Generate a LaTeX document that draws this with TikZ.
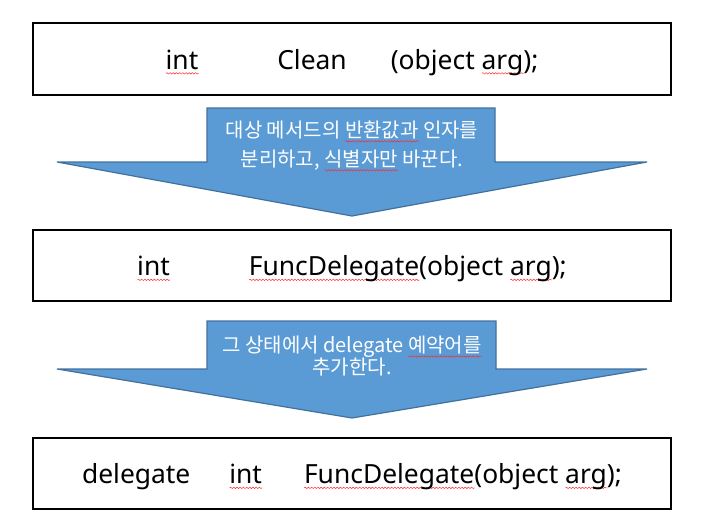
\documentclass[tikz,border=0pt]{standalone}
\usepackage{fontspec}
\setmainfont{Noto Sans CJK KR}
\newfontfamily\codefont{Noto Sans}
\usetikzlibrary{positioning}
\usetikzlibrary{decorations.pathmorphing}
\definecolor{pfeilblau}{RGB}{91,155,213}
\definecolor{pfeilrand}{RGB}{65,113,156}
\newlength{\welliglen}
\newcommand\wellig[1]{\settowidth{\welliglen}{#1}\rlap{\tikz[baseline=0pt]\draw[red!85!white, line width=0.35pt, decorate, decoration={snake, amplitude=0.55pt, segment length=2.4pt}] (0pt,-3pt) -- (\welliglen,-3pt);}#1}
\tikzset{
	codebox/.style={
		rectangle,
		draw=black, line width=1.5pt,
		minimum width=478pt,
		minimum height=53.5pt,
		text height=17.5pt, text depth=2pt,
		font=\codefont\fontsize{19.8pt}{22pt}\selectfont,
		inner sep=0pt},
	pfeil/.style={
		fill=pfeilblau,
		draw=pfeilrand, line width=0.9pt,
		line join=miter},
	pfeiltext/.style={
		text=white,
		align=center,
		inner sep=0pt},
}
\begin{document}
\begin{tikzpicture}
	[x=0.75pt,y=-0.75pt]
	\useasboundingbox (0,0) rectangle (701,525);
	\node[codebox] (eins) at (352,59) {\wellig{int}\hspace{59.25pt}Clean\hspace{33pt}(object \wellig{arg});};
	\node[codebox] (zwei) at (352,265.5) {\wellig{int}\hspace{59.25pt}\wellig{FuncDelegate}(object \wellig{arg});};
	\node[codebox] (drei) at (352,473.5) {delegate\hspace{29.25pt}\wellig{int}\hspace{31.5pt}\wellig{FuncDelegate}(object \wellig{arg});};
	
	\draw[pfeil] (207,108) -- (495,108) -- (495,162) -- (647,162) -- (352,216) -- (57,162) -- (207,162) -- cycle;
	\draw[pfeil] (207,321) -- (496,321) -- (496,369) -- (647,369) -- (352,418) -- (57,369) -- (207,369) -- cycle;
	
	\node[pfeiltext, font=\fontsize{15pt}{21.75pt}\selectfont] (hinweis1) at (352,146) {대상 메서드의 \wellig{반환값과} 인자를\\분리하고, \wellig{식별자만} 바꾼다.};
	\node[pfeiltext, font=\fontsize{15pt}{16.5pt}\selectfont] (hinweis2) at (352,356) {그 상태에서 delegate \wellig{예약어를}\\추가한다.};
\end{tikzpicture}
\end{document}
